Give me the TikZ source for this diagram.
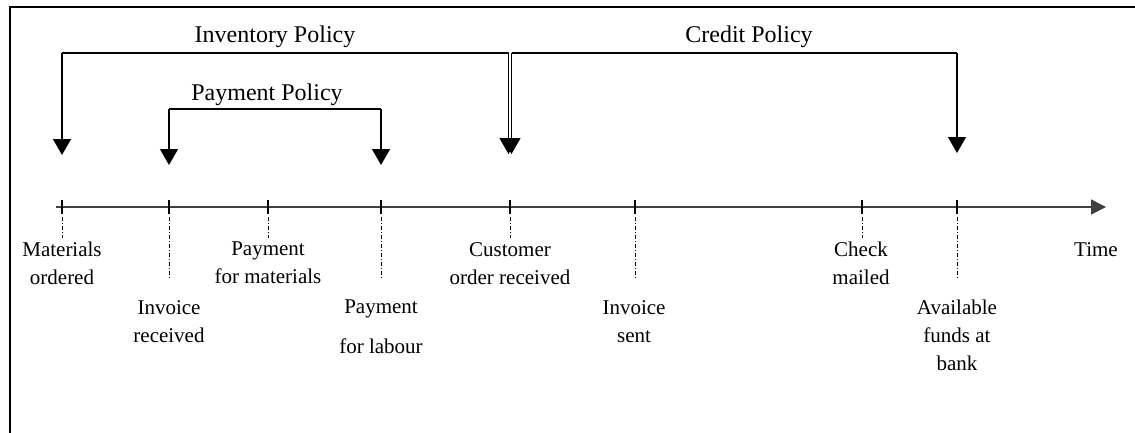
\documentclass[tikz,border=0pt]{standalone}
\usepackage{fontspec}
\setmainfont{Liberation Serif}
\usetikzlibrary{arrows.meta}
\begin{document}
\begin{tikzpicture}[x=1pt,y=-1pt,
  frame/.style={line width=2.5pt,black},
  axis/.style={line width=1.6pt,black!75,-{Triangle[width=15pt,length=15pt]}},
  tickmark/.style={line width=2.2pt,black},
  drop/.style={line width=1pt,black,dash pattern=on 4pt off 2pt on 1pt off 2pt},
  bracket/.style={line width=2pt,black},
  pointer/.style={line width=1.3pt,black,-{Triangle[width=18pt,length=16pt]}},
  lbl/.style={font=\fontsize{21}{28}\selectfont,align=center,inner sep=0pt,anchor=north},
  head/.style={font=\fontsize{24}{28}\selectfont,inner sep=0pt,anchor=base}]
\useasboundingbox (0,0) rectangle (1135,432);

% frame: top and left rules
\draw[frame] (10,440) -- (10,7) -- (1140,7);

% time axis
\coordinate (start) at (56,207);
\coordinate (tend) at (1106,207);
\draw[axis] (start) -- (tend);

% events along the axis and the ends of their drop lines
\foreach \n/\x/\d in {t1/62/238, t2/169/278, t3/268/238, t4/381/278,
                      t5/510/238, t6/635/278, t7/862/238, t8/957/278}{
  \coordinate (\n) at (\x,207);
  \coordinate (\n d) at (\x,\d);
  \draw[tickmark] ([yshift=7pt]\n) -- ([yshift=-7pt]\n);
  \draw[drop,shorten <=10pt] (\n) -- (\n d);
}

% event labels
\node[lbl] (l1) at (62,242) {Materials\\ordered};
\node[lbl] (l2) at (169,300) {Invoice\\received};
\node[lbl] (l3) at (268,242) {Payment\\for materials};
\node[lbl] (l4) at (381,300) {Payment\\[12pt]for labour};
\node[lbl] (l5) at (510,242) {Customer\\order received};
\node[lbl] (l6) at (634,300) {Invoice\\sent};
\node[lbl] (l7) at (861,242) {Check\\mailed};
\node[lbl] (l8) at (957,300) {Available\\funds at\\bank};
\node[lbl] (time) at (1096,242) {Time};

% policy headings
\node[head] (inv) at (275,42) {Inventory Policy};
\node[head] (pay) at (267,100) {Payment Policy};
\node[head] (cred) at (749,42) {Credit Policy};

% bracket corners and arrow tips
\coordinate (invL) at (62,53);
\coordinate (invR) at (508.5,53);
\coordinate (credL) at (511.5,53);
\coordinate (credR) at (957,53);
\coordinate (payL) at (169,109);
\coordinate (payR) at (381,109);
\coordinate (a1) at (62,155);
\coordinate (a5i) at (508.5,154);
\coordinate (a5c) at (511.5,154);
\coordinate (a8) at (957,153);
\coordinate (a2) at (169,165);
\coordinate (a4) at (381,165);

% inventory policy
\draw[bracket] (invL) -- (invR);
\draw[pointer] (invL) -- (a1);
\draw[pointer] (invR) -- (a5i);
% credit policy
\draw[bracket] (credL) -- (credR);
\draw[pointer] (credL) -- (a5c);
\draw[pointer] (credR) -- (a8);
% payment policy
\draw[bracket] (payL) -- (payR);
\draw[pointer] (payL) -- (a2);
\draw[pointer] (payR) -- (a4);
\end{tikzpicture}
\end{document}
